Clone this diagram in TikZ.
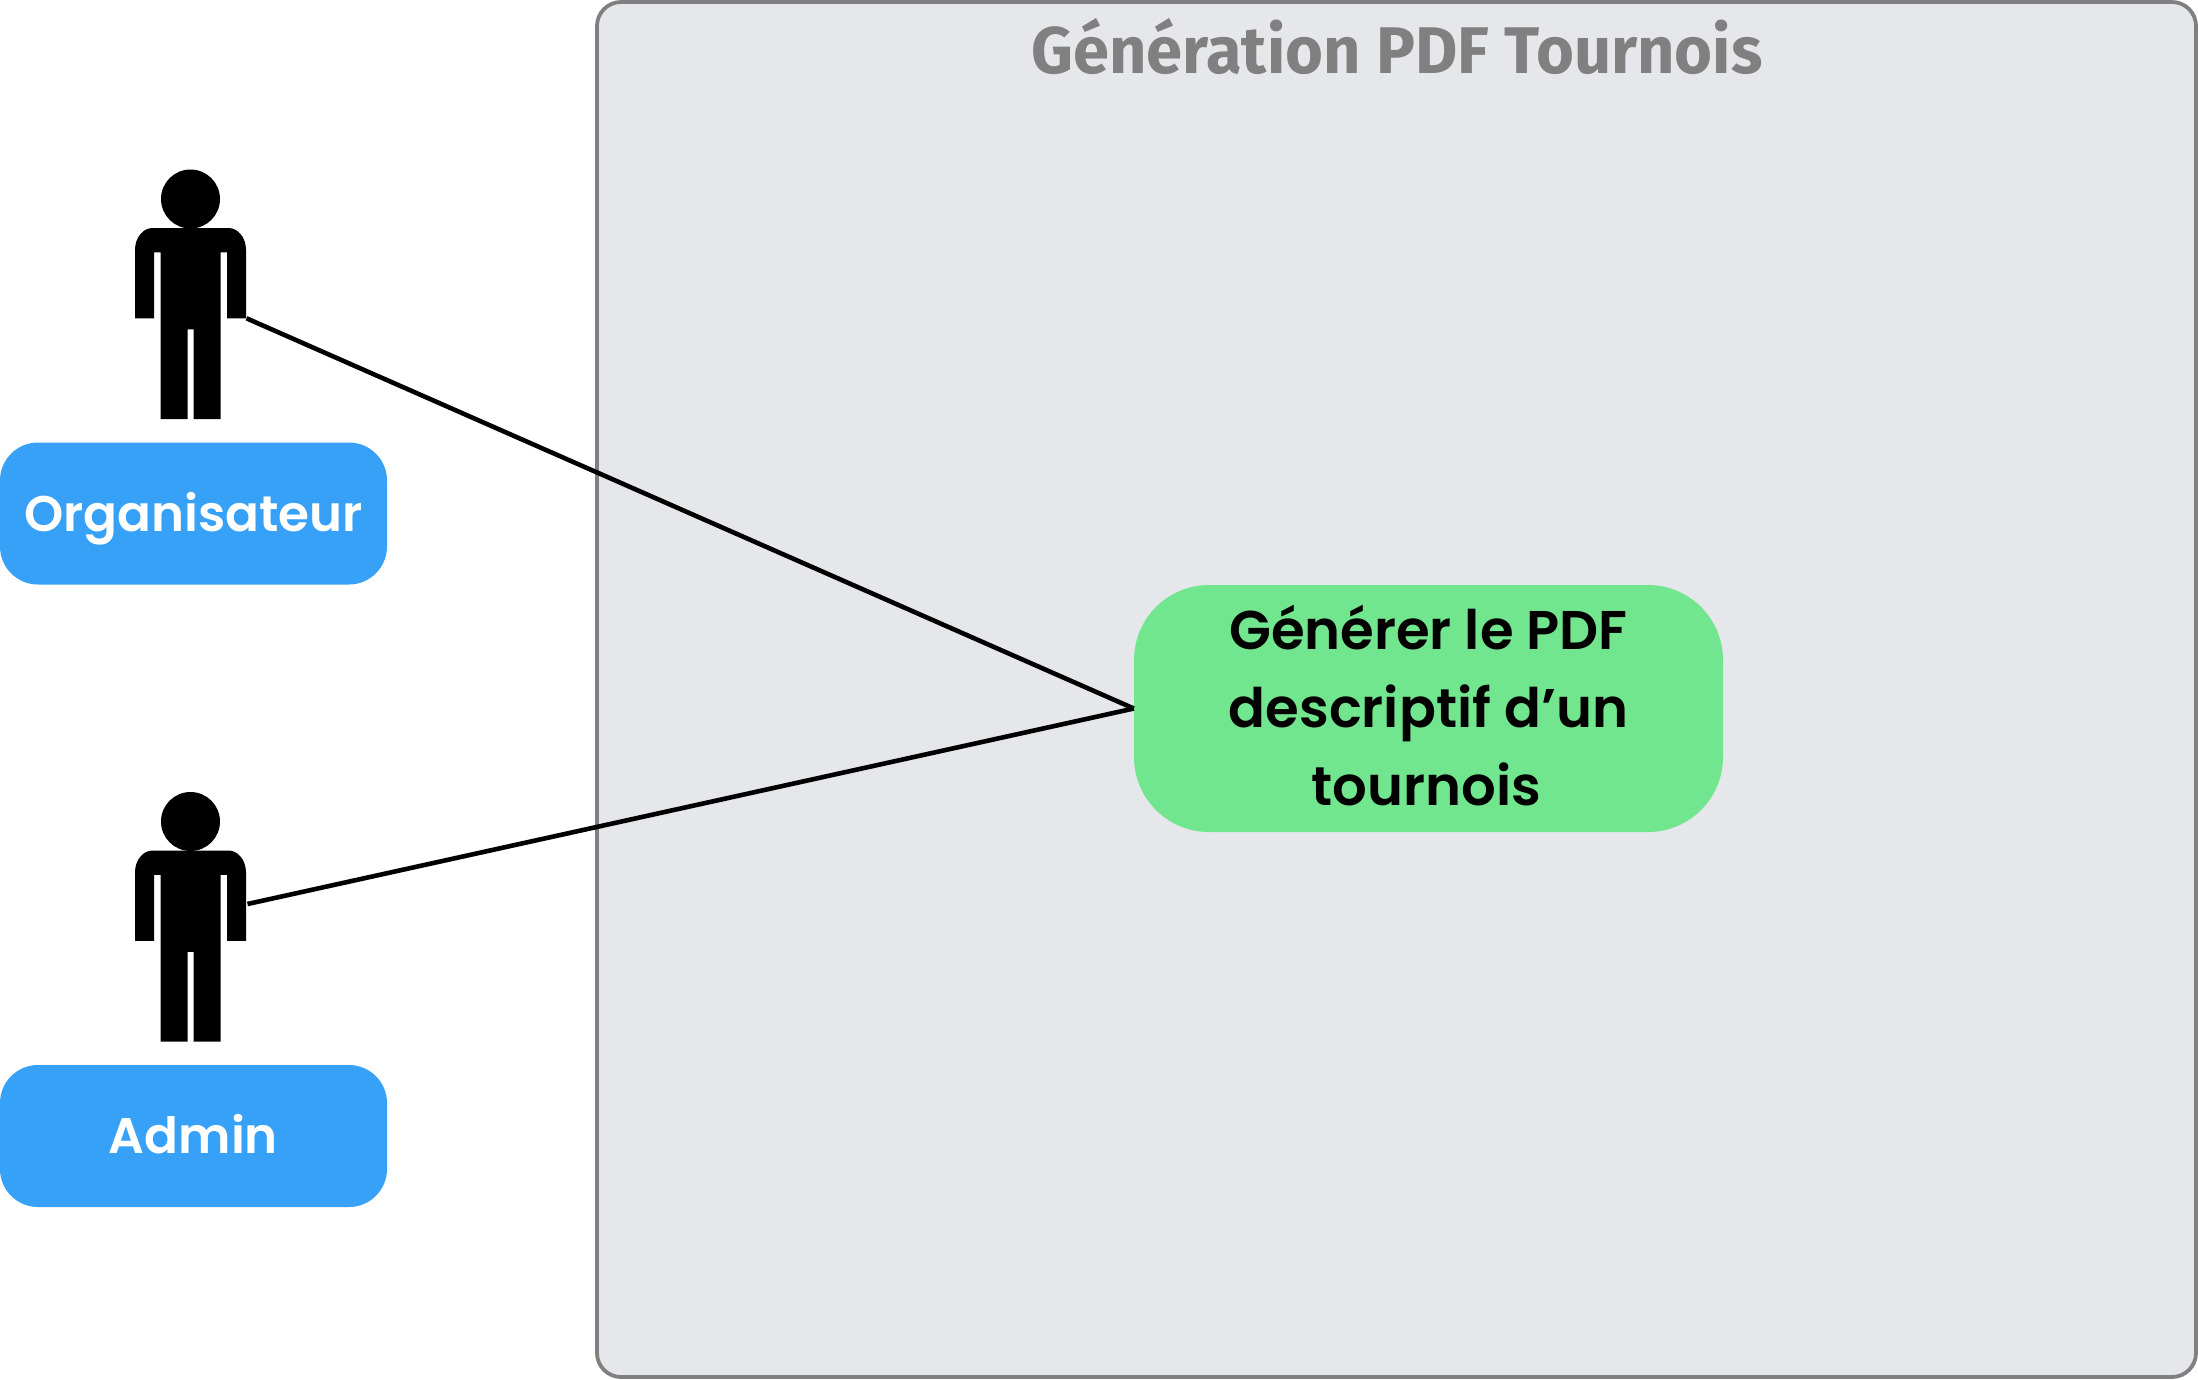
\documentclass[tikz,border=0pt]{standalone}
\usepackage{fontspec}
\setmainfont{Poppins}
\newfontfamily\labfont[UprightFont={* SemiBold}]{Poppins}
\newfontfamily\titlefont[UprightFont={* Bold},FakeStretch=0.985]{Fira Sans}
\definecolor{frameFill}{HTML}{E6E7EB}
\definecolor{frameLine}{HTML}{808080}
\definecolor{actorBlue}{HTML}{36A1F6}
\definecolor{useGreen}{HTML}{72E68F}
\tikzset{
  x=1pt,y=-1pt,
  framebox/.style={draw=frameLine,line width=3.8pt,fill=frameFill,rounded corners=24pt},
  actorlabel/.style={fill=actorBlue,text=white,rounded corners=38pt,minimum width=387pt,minimum height=142pt,inner sep=0pt,font=\labfont\fontsize{50}{50}\selectfont},
  usecase/.style={fill=useGreen,text=black,rounded corners=75pt,minimum width=589pt,minimum height=247pt,inner sep=0pt,font=\labfont\fontsize{54.5}{78}\selectfont},
  title/.style={text=frameLine,inner sep=0pt,anchor=base,font=\titlefont\fontsize{66}{66}\selectfont},
  link/.style={draw=black,line width=4.6pt},
  actor/.pic={
    \fill[black] (0,-220) circle (29.5);
    \fill[black] (-55.5,-100.7) -- (-55.5,-169) .. controls (-55.5,-182) and (-47,-191) .. (-38,-191)
      -- (38,-191) .. controls (47,-191) and (55.5,-182) .. (55.5,-169)
      -- (55.5,-100.7) -- (36.5,-100.7) -- (36.5,-166.7) -- (30,-166.7) -- (30,0) -- (3,0) -- (3,-89.7) -- (-3,-89.7) -- (-3,0)
      -- (-30,0) -- (-30,-166.7) -- (-36.5,-166.7) -- (-36.5,-100.7) -- (-55.5,-100.7) -- cycle;
    \coordinate (-hand) at (56,-100.7);
    \coordinate (-side) at (57,-137.5);
  }
}
\begin{document}
\begin{tikzpicture}
\useasboundingbox (0,0) rectangle (2198,1379);
\path[framebox] (597,2) rectangle (2196,1377);
\node[title] (ttl) at (1397,73) {Génération PDF Tournois};
\pic (orga) at (190.5,419) {actor};
\pic (adm) at (190.5,1041.5) {actor};
\node[actorlabel] (lorg) at (193.5,513.5) {\raisebox{-17.5pt}[0pt][0pt]{Organisateur}};
\node[actorlabel] (ladm) at (193.5,1136) {\raisebox{-17.5pt}[0pt][0pt]{Admin}};
\node[usecase] (gen) at (1428.5,708.5) {\raisebox{59.5pt}[0pt][0pt]{\begin{tabular}[t]{@{}c@{}}Générer le PDF\\descriptif d’un\\tournois\kern4pt\end{tabular}}};
\draw[link] (orga-hand) -- (gen.west);
\draw[link] (adm-side) -- (gen.west);
\end{tikzpicture}
\end{document}
